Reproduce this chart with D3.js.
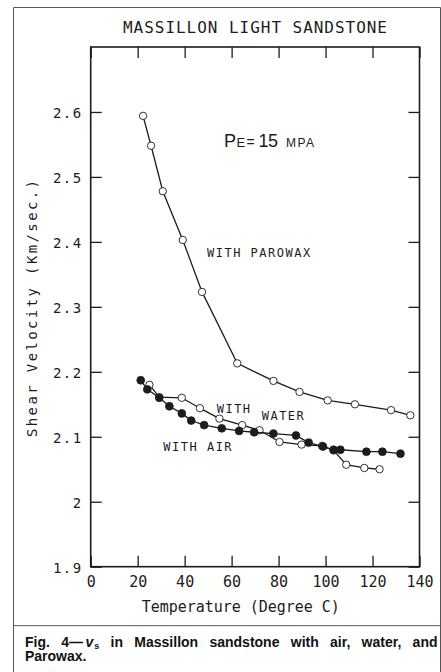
<!DOCTYPE html>
<html>
<head>
<meta charset="utf-8">
<script src="https://cdn.jsdelivr.net/npm/d3@7"></script>
<style>
  body { margin: 0; background: #fff; }
  svg { display: block; }
</style>
</head>
<body>
<svg id="chart" width="441" height="672"></svg>
<script>
// Shear velocity (km/s) vs temperature (°C), Massillon light sandstone, Pe = 15 MPa
const xTicks = [0, 20, 40, 60, 80, 100, 120, 140];
const yTicks = [1.9, 2.0, 2.1, 2.2, 2.3, 2.4, 2.5, 2.6];

const parowaxTemp = [22.3, 25.7, 30.7, 39.2, 47.4, 62.4, 77.8, 88.9, 100.9, 112.5, 127.9, 136.1];
const parowaxVel  = [2.594, 2.548, 2.478, 2.403, 2.323, 2.213, 2.186, 2.169, 2.156, 2.150, 2.141, 2.133];

const waterTemp = [25.0, 29.2, 38.8, 46.5, 54.8, 64.5, 71.9, 80.4, 89.8, 98.5, 103.4, 108.8, 116.5, 123.0];
const waterVel  = [2.180, 2.161, 2.160, 2.144, 2.128, 2.118, 2.110, 2.092, 2.088, 2.086, 2.079, 2.057, 2.052, 2.050];

const airTemp = [21.3, 24.1, 29.2, 33.5, 38.8, 42.8, 48.3, 55.8, 63.2, 69.6, 77.8, 87.4, 92.8, 98.9, 103.4, 106.3, 117.4, 124.2, 131.9];
const airVel  = [2.187, 2.173, 2.160, 2.147, 2.136, 2.125, 2.118, 2.113, 2.109, 2.107, 2.105, 2.102, 2.091, 2.085, 2.080, 2.080, 2.077, 2.077, 2.074];

const svg = d3.select("#chart");
const ink = "#1c1c1c";
const mono = "'DejaVu Sans Mono', monospace";

// plot frame
const plotLeft = 90.7, plotRight = 419.5, plotTop = 47, plotBottom = 566.7;
const x = d3.scaleLinear().domain([0, 140]).range([plotLeft, plotRight]);
const y = d3.scaleLinear().domain([1.9, 2.7]).range([plotBottom, plotTop]);

// figure border and caption rule
const frame = svg.append("g").attr("stroke", "#555").attr("stroke-width", 1).attr("fill", "none");
frame.append("path").attr("d", "M13.5,672 V7.5 H440.5 V672");
frame.append("line").attr("x1", 13.5).attr("x2", 440.5).attr("y1", 625.7).attr("y2", 625.7);

// title
svg.append("text")
  .attr("x", 123).attr("y", 33.3)
  .attr("font-family", mono).attr("font-size", 16)
  .attr("textLength", 264).attr("lengthAdjust", "spacing")
  .attr("fill", ink)
  .text("MASSILLON LIGHT SANDSTONE");

// axes with inward ticks
const tick = 11;
const styleAxis = g => {
  g.select(".domain").remove();
  g.selectAll(".tick line").attr("stroke", ink).attr("stroke-width", 1.3);
  g.selectAll(".tick text").attr("font-family", mono).attr("fill", ink);
};

svg.append("g")
  .attr("transform", `translate(0,${plotBottom})`)
  .call(d3.axisBottom(x).tickValues(xTicks).tickSize(-tick).tickPadding(10).tickFormat(d3.format("d")))
  .call(styleAxis)
  .call(g => g.selectAll(".tick text").attr("font-size", 15));

svg.append("g")
  .attr("transform", `translate(0,${plotTop})`)
  .call(d3.axisTop(x).tickValues(xTicks).tickSize(-tick).tickFormat(""))
  .call(styleAxis);

svg.append("g")
  .attr("transform", `translate(${plotLeft},0)`)
  .call(d3.axisLeft(y).tickValues(yTicks).tickSize(-tick).tickPadding(8)
        .tickFormat(d => d === 2 ? "2" : d3.format(".1f")(d)))
  .call(styleAxis)
  .call(g => g.selectAll(".tick text").attr("font-size", 14).attr("letter-spacing", 1.5)
                .attr("dy", "0.4em"));

svg.append("g")
  .attr("transform", `translate(${plotRight},0)`)
  .call(d3.axisRight(y).tickValues(yTicks).tickSize(-tick).tickFormat(""))
  .call(styleAxis);

svg.append("rect")
  .attr("x", plotLeft).attr("y", plotTop)
  .attr("width", plotRight - plotLeft).attr("height", plotBottom - plotTop)
  .attr("fill", "none").attr("stroke", ink).attr("stroke-width", 1.6);

// axis titles
svg.append("text")
  .attr("x", 141.7).attr("y", 612)
  .attr("font-family", mono).attr("font-size", 15)
  .attr("textLength", 198).attr("lengthAdjust", "spacing")
  .attr("fill", ink)
  .text("Temperature (Degree C)");

svg.append("text")
  .attr("transform", "translate(37,437) rotate(-90)")
  .attr("font-family", mono).attr("font-size", 14)
  .attr("textLength", 257).attr("lengthAdjust", "spacing")
  .attr("fill", ink)
  .text("Shear Velocity (Km/sec.)");

// series
const line = d3.line().x(d => x(d[0])).y(d => y(d[1]));
const zip = (a, b) => a.map((t, i) => [t, b[i]]);

function drawSeries(pts, filled) {
  const g = svg.append("g");
  g.append("path").datum(pts).attr("d", line)
    .attr("fill", "none").attr("stroke", ink).attr("stroke-width", 1.3);
  g.selectAll("circle").data(pts).join("circle")
    .attr("cx", d => x(d[0])).attr("cy", d => y(d[1]))
    .attr("r", filled ? 3.9 : 3.7)
    .attr("fill", filled ? ink : "#fff")
    .attr("stroke", ink).attr("stroke-width", filled ? 0.8 : 0.9);
}

drawSeries(zip(parowaxTemp, parowaxVel), false);
drawSeries(zip(waterTemp, waterVel), false);
drawSeries(zip(airTemp, airVel), true);

// annotations
const label = (tx, ty, s) => svg.append("text")
  .attr("x", tx).attr("y", ty)
  .attr("font-family", mono).attr("font-size", 12)
  .attr("letter-spacing", 1.5).attr("fill", ink).text(s);

label(207, 256.7, "WITH PAROWAX");
label(163.3, 450.7, "WITH AIR");
const w = label(216.7, 412.7, "WITH");
w.append("tspan").attr("x", 261.7).attr("y", 420).text("WATER");

const sans = "'Liberation Sans', Arial, sans-serif";
const pe = svg.append("text").attr("y", 147.3).attr("font-family", sans).attr("fill", ink);
pe.append("tspan").attr("x", 224).attr("font-size", 18).text("P");
pe.append("tspan").attr("x", 236.5).attr("font-size", 13).text("E");
pe.append("tspan").attr("x", 246.5).attr("font-size", 14).text("=");
pe.append("tspan").attr("x", 258.5).attr("font-size", 18).attr("letter-spacing", -0.5).text("15");
pe.append("tspan").attr("x", 286).attr("font-size", 12).attr("letter-spacing", 1.5).text("MPA");

// caption
const capFont = "'Liberation Sans', Arial, sans-serif";
const cap1 = svg.append("text")
  .attr("x", 25).attr("y", 646.7)
  .attr("font-family", capFont).attr("font-size", 14).attr("font-weight", "bold")
  .attr("fill", "#111");
cap1.append("tspan").text("Fig. 4\u2014");
cap1.append("tspan").attr("font-style", "italic").attr("dx", 2.5).text("v");
cap1.append("tspan").attr("font-size", 9).attr("dx", 1).attr("dy", 2).text("s");
cap1.append("tspan").attr("dy", -2).text(" in Massillon sandstone with air, water, and");

// justify the first caption line to the column width
const natural = cap1.node().getComputedTextLength();
const gaps = 8;
cap1.attr("word-spacing", Math.max(0, (409 - natural) / gaps));

svg.append("text")
  .attr("x", 25).attr("y", 661)
  .attr("font-family", capFont).attr("font-size", 14).attr("font-weight", "bold")
  .attr("fill", "#111")
  .text("Parowax.");
</script>
</body>
</html>
